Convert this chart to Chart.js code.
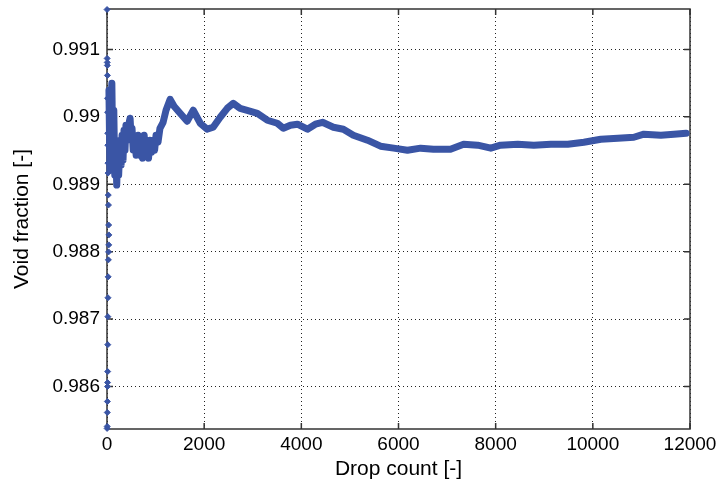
<!DOCTYPE html>
<html>
<head>
<meta charset="utf-8">
<script src="https://cdn.jsdelivr.net/npm/chart.js@4/dist/chart.umd.min.js"></script>
<style>
  body { margin: 0; background: #fff; }
  canvas { display: block; }
</style>
</head>
<body>
<canvas id="voidChart" width="723" height="487"></canvas>
<script>
// first few drops: the running average jumps around a lot
const earlyDrops = [1, 2, 3, 4, 5, 6, 7, 8, 9, 10, 11, 12, 13, 14, 15, 16, 17, 18, 19, 20, 22, 24, 26, 28, 30, 32, 34, 36, 38];
const earlyVoid = [
  0.991592, 0.985379, 0.990867, 0.985408, 0.990808, 0.985615, 0.990763, 0.985778,
  0.990615, 0.986000, 0.990275, 0.986059, 0.990068, 0.986222, 0.989757, 0.986621,
  0.989580, 0.987036, 0.989314, 0.987317, 0.989166, 0.987627, 0.988840, 0.987879,
  0.988692, 0.987997, 0.988396, 0.988101, 0.988249
];

// running average after that
const drops = [
  40, 60, 80, 100, 120, 140, 160, 180, 200, 220, 240, 270, 290, 310, 330, 350, 370,
  390, 430, 475, 500, 515, 540, 575, 600, 640, 670, 700, 730, 765, 790, 825, 855, 885,
  920, 950, 980, 1010, 1050, 1090, 1155, 1215, 1300, 1380, 1505,
  1650, 1775, 1920, 2060, 2185, 2330, 2475, 2600, 2740, 2885, 3095, 3300, 3505, 3630,
  3775, 3920, 4125, 4290, 4435, 4660, 4865, 5070, 5360, 5630, 5900, 6185, 6455, 6720,
  7070, 7340, 7630, 7900, 8100, 8455, 8785, 9135, 9485, 9815, 10165, 10515, 10845,
  11050, 11400, 11670, 11920
];
const voidFraction = [
  0.990393, 0.989210, 0.990246, 0.990497, 0.989358, 0.990098, 0.989136, 0.989654,
  0.988988, 0.989506, 0.989136, 0.989654, 0.989284, 0.989728, 0.989358, 0.989802,
  0.989506, 0.989876, 0.989831, 0.989979, 0.989654, 0.989831, 0.989506, 0.989654,
  0.989432, 0.989728, 0.989432, 0.989580, 0.989388, 0.989728, 0.989432, 0.989624,
  0.989388, 0.989654, 0.989476, 0.989654, 0.989506, 0.989728, 0.989624, 0.989831,
  0.989920, 0.990098, 0.990260, 0.990157, 0.990053,
  0.989935, 0.990098, 0.989905, 0.989817, 0.989846, 0.989994, 0.990127, 0.990201,
  0.990127, 0.990098, 0.990053, 0.989950, 0.989905, 0.989831, 0.989876, 0.989891,
  0.989817, 0.989891, 0.989920, 0.989846, 0.989817, 0.989728, 0.989654, 0.989565,
  0.989536, 0.989506, 0.989536, 0.989521, 0.989521, 0.989595, 0.989580, 0.989536,
  0.989580, 0.989595, 0.989580, 0.989595, 0.989595, 0.989624, 0.989669, 0.989683,
  0.989698, 0.989743, 0.989728, 0.989743, 0.989757
];

const xTicks = [0, 2000, 4000, 6000, 8000, 10000, 12000];
const yTicks = [0.986, 0.987, 0.988, 0.989, 0.99, 0.991];

const blue = "#3a55a5";
const tickFont = { family: "'Liberation Sans', Arial, sans-serif", size: 19, lineHeight: 1 };
const titleFont = { family: "'Liberation Sans', Arial, sans-serif", size: 21 };

// matlab style box + inward ticks
const boxPlugin = {
  id: "box",
  beforeDatasetsDraw(chart) {
    const { ctx, chartArea: a, scales } = chart;
    ctx.save();
    ctx.strokeStyle = "#333";
    ctx.lineWidth = 1.5;
    ctx.strokeRect(a.left, a.top, a.right - a.left, a.bottom - a.top);
    ctx.beginPath();
    scales.x.ticks.forEach((t) => {
      const px = scales.x.getPixelForValue(t.value);
      ctx.moveTo(px, a.bottom);
      ctx.lineTo(px, a.bottom - 6);
      ctx.moveTo(px, a.top);
      ctx.lineTo(px, a.top + 6);
    });
    scales.y.ticks.forEach((t) => {
      const py = scales.y.getPixelForValue(t.value);
      ctx.moveTo(a.left, py);
      ctx.lineTo(a.left + 6, py);
      ctx.moveTo(a.right, py);
      ctx.lineTo(a.right - 6, py);
    });
    ctx.stroke();
    ctx.restore();
  },
};

new Chart(document.getElementById("voidChart"), {
  type: "scatter",
  data: {
    datasets: [
      {
        data: drops.map((d, i) => ({ x: d, y: voidFraction[i] })),
        showLine: true,
        borderColor: blue,
        borderWidth: 7,
        borderJoinStyle: "round",
        borderCapStyle: "round",
        pointRadius: 0,
        clip: false,
      },
      {
        data: earlyDrops.map((d, i) => ({ x: d, y: earlyVoid[i] })),
        showLine: false,
        pointStyle: "rectRot",
        pointRadius: 3,
        backgroundColor: blue,
        borderColor: blue,
        borderWidth: 1,
        clip: false,
      },
    ],
  },
  options: {
    responsive: false,
    animation: false,
    layout: { padding: { left: 0, right: 33, top: 9, bottom: 0 } },
    plugins: { legend: { display: false }, tooltip: { enabled: false } },
    scales: {
      x: {
        type: "linear",
        min: 0,
        max: 12000,
        afterFit: (s) => { s.height = 58; },
        afterBuildTicks: (s) => { s.ticks = xTicks.map((v) => ({ value: v })); },
        grid: { color: "#222", drawTicks: false },
        border: { display: false, dash: [1, 3] },
        ticks: { color: "#000", font: tickFont, padding: 6, callback: (v) => String(v) },
        title: { display: true, text: "Drop count [-]", color: "#000", font: titleFont, padding: { bottom: 5 } },
      },
      y: {
        type: "linear",
        min: 0.98537,
        max: 0.9916,
        afterFit: (s) => { s.width = 107; s.paddingTop = 0; s.paddingBottom = 0; },
        afterBuildTicks: (s) => { s.ticks = yTicks.map((v) => ({ value: v })); },
        grid: { color: "#222", drawTicks: false },
        border: { display: false, dash: [1, 3] },
        ticks: { color: "#000", font: tickFont, padding: 7, callback: (v) => String(Number(v.toFixed(3))) },
        title: { display: true, text: "Void fraction [-]", color: "#000", font: titleFont, padding: { top: 10 } },
      },
    },
  },
  plugins: [boxPlugin],
});
</script>
</body>
</html>
